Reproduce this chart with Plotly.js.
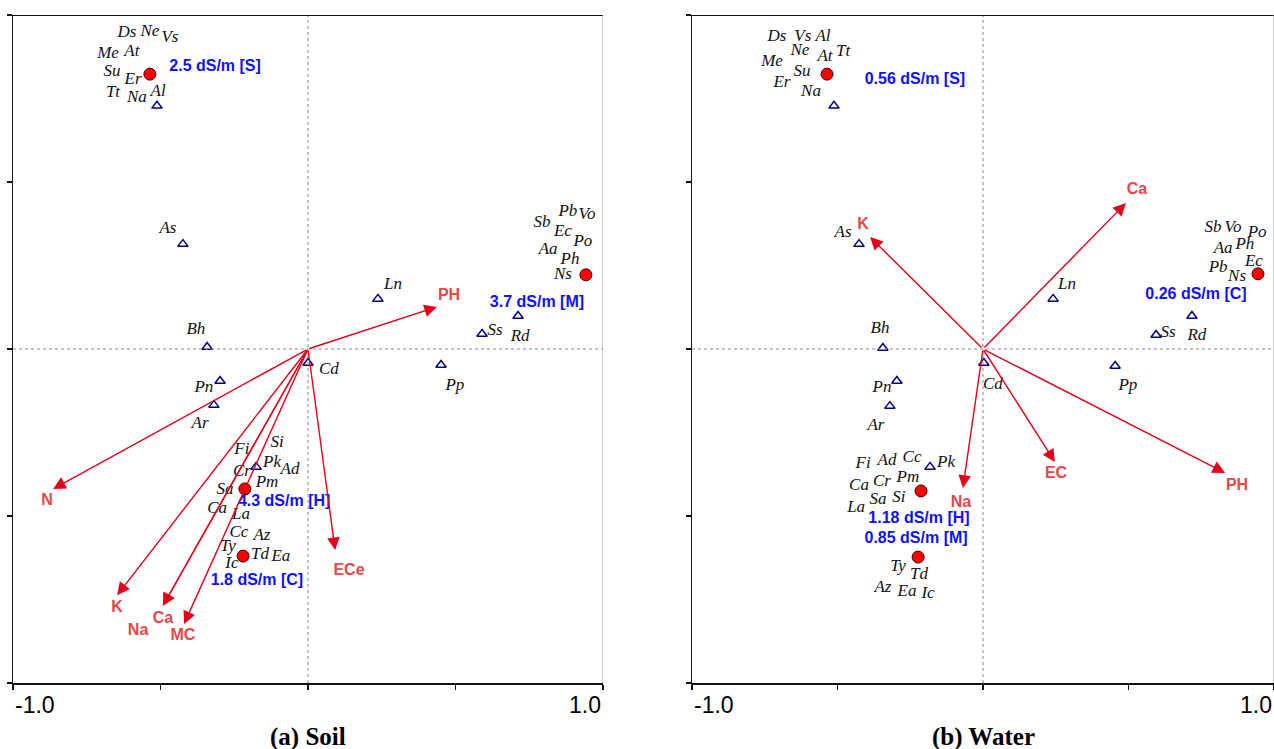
<!DOCTYPE html>
<html><head><meta charset="utf-8">
<script src="https://cdn.plot.ly/plotly-3.0.1.min.js"></script>
<style>html,body{margin:0;padding:0;background:#fff}#plot{width:1274px;height:749px}</style>
</head><body><div id="plot"></div>
<script>
// ---------- (a) Soil ----------
const soilTriNames = ['Al','As','Bh','Pn','Ar','Cd','Ln','Pp','Ss','Rd','Pk'];
const soilTriX = [-0.512,-0.424,-0.342,-0.298,-0.319,0.000,0.237,0.451,0.590,0.712,-0.176];
const soilTriY = [0.728,0.314,0.006,-0.096,-0.168,-0.042,0.150,-0.048,0.045,0.099,-0.353];

const soilSpNames = ['Ds','Ne','Vs','Me','At','Su','Er','Tt','Na','Al',
  'Pb','Vo','Sb','Ec','Po','Aa','Ph','Ns',
  'As','Ln','Bh','Cd','Pp','Pn','Ar','Ss','Rd',
  'Fi','Si','Cr','Pk','Ad','Sa','Pm','Ca','La','Cc','Az','Ty','Td','Ea','Ic'];
const soilSpX = [-0.614,-0.536,-0.468,-0.678,-0.597,-0.664,-0.593,-0.661,-0.580,-0.508,
  0.881,0.946,0.793,0.864,0.932,0.814,0.888,0.864,
  -0.475,0.288,-0.380,0.071,0.498,-0.353,-0.366,0.634,0.719,
  -0.224,-0.105,-0.224,-0.122,-0.061,-0.281,-0.139,-0.308,-0.227,-0.234,-0.156,-0.271,-0.163,-0.092,-0.258];
const soilSpY = [0.946,0.949,0.931,0.883,0.889,0.829,0.805,0.766,0.751,0.769,
  0.410,0.401,0.377,0.350,0.320,0.296,0.266,0.222,
  0.359,0.192,0.057,-0.063,-0.111,-0.117,-0.225,0.054,0.036,
  -0.302,-0.281,-0.368,-0.341,-0.362,-0.422,-0.401,-0.479,-0.497,-0.551,-0.560,-0.593,-0.617,-0.623,-0.644];

const soilGrpX = [-0.536,0.942,-0.214,-0.220];
const soilGrpY = [0.823,0.222,-0.419,-0.620];
const soilGrpText = ['2.5 dS/m [S]','3.7 dS/m [M]','4.3 dS/m [H]','1.8 dS/m [C]'];
const soilGrpTextX = [-0.315,0.776,-0.081,-0.173];
const soilGrpTextY = [0.844,0.138,-0.458,-0.695];

const soilVecNames = ['N','K','Na','Ca','MC','ECe','PH'];
const soilVecX = [-0.864,-0.647,-0.492,-0.492,-0.420,0.092,0.437];
const soilVecY = [-0.419,-0.737,-0.769,-0.769,-0.823,-0.602,0.126];
const soilVecLblX = [-0.885,-0.647,-0.576,-0.492,-0.424,0.139,0.478];
const soilVecLblY = [-0.455,-0.775,-0.844,-0.808,-0.859,-0.665,0.159];

// ---------- (b) Water ----------
const waterTriNames = ['Top','As','Bh','Pn','Ar','Cd','Ln','Pp','Ss','Rd','Pk'];
const waterTriX = [-0.512,-0.426,-0.344,-0.296,-0.320,0.003,0.241,0.454,0.595,0.718,-0.182];
const waterTriY = [0.728,0.314,0.003,-0.096,-0.171,-0.042,0.150,-0.051,0.042,0.099,-0.353];

const waterSpNames = ['Ds','Vs','Al','Ne','At','Tt','Me','Su','Er','Na',
  'Sb','Vo','Po','Aa','Ph','Ec','Pb','Ns',
  'As','Ln','Bh','Cd','Pp','Pn','Ar','Ss','Rd','Pk',
  'Fi','Ad','Cc','Ca','Cr','Pm','La','Sa','Si','Ty','Td','Az','Ea','Ic'];
const waterSpX = [-0.708,-0.619,-0.550,-0.629,-0.543,-0.481,-0.725,-0.622,-0.691,-0.591,
  0.790,0.859,0.942,0.825,0.900,0.931,0.808,0.873,
  -0.481,0.289,-0.354,0.034,0.498,-0.347,-0.368,0.636,0.735,-0.127,
  -0.412,-0.330,-0.244,-0.426,-0.347,-0.258,-0.436,-0.361,-0.289,-0.292,-0.220,-0.344,-0.261,-0.189];
const waterSpY = [0.934,0.934,0.934,0.892,0.874,0.889,0.859,0.829,0.796,0.769,
  0.362,0.362,0.347,0.299,0.311,0.260,0.243,0.216,
  0.347,0.192,0.060,-0.108,-0.111,-0.117,-0.231,0.048,0.039,-0.341,
  -0.344,-0.335,-0.326,-0.410,-0.398,-0.386,-0.476,-0.452,-0.446,-0.653,-0.677,-0.716,-0.728,-0.734];

const waterGrpX = [-0.536,0.945,-0.213,-0.223];
const waterGrpY = [0.823,0.225,-0.425,-0.623];
const waterGrpText = ['0.56 dS/m [S]','0.26 dS/m [C]','1.18 dS/m [H]','0.85 dS/m [M]'];
const waterGrpTextX = [-0.234,0.732,-0.220,-0.230];
const waterGrpTextY = [0.805,0.162,-0.509,-0.569];

const waterVecNames = ['K','Ca','Na','EC','PH'];
const waterVecX = [-0.388,0.491,-0.069,0.247,0.832];
const waterVecY = [0.335,0.437,-0.416,-0.338,-0.371];
const waterVecLblX = [-0.412,0.529,-0.076,0.251,0.873];
const waterVecLblY = [0.371,0.476,-0.461,-0.374,-0.410];

const axisTicks = [-1,-0.5,0,0.5,1];
const axisTickLabels = ['-1.0','1.0'];
const panelTitles = ['(a) Soil','(b) Water'];

// ---------- styles ----------
const arrowCol = '#e2001a';
const vecLblCol = '#e8474a';
const blue = '#1010ff';
const navy = '#00007f';

function panelTraces(xa, ya, triX, triY, spN, spX, spY, gX, gY, gT, gTX, gTY, vN, vLX, vLY){
  return [
    {type:'scatter', mode:'markers', x:triX, y:triY, xaxis:xa, yaxis:ya,
     marker:{symbol:'triangle-up-open', size:9, color:navy, line:{width:1.5, color:navy}}, hoverinfo:'skip'},
    {type:'scatter', mode:'text', x:spX, y:spY, text:spN, xaxis:xa, yaxis:ya,
     textposition:'middle center', textfont:{family:'Liberation Serif', size:17, style:'italic', color:'#111'}, hoverinfo:'skip'},
    {type:'scatter', mode:'markers', x:gX, y:gY, xaxis:xa, yaxis:ya,
     marker:{symbol:'circle', size:12, color:'#ff0000', line:{width:1, color:'#3a0000'}}, hoverinfo:'skip'},
    {type:'scatter', mode:'text', x:gTX, y:gTY, text:gT, xaxis:xa, yaxis:ya,
     textposition:'middle center', textfont:{family:'Liberation Sans', size:16, weight:'bold', color:blue}, hoverinfo:'skip'},
    {type:'scatter', mode:'text', x:vLX, y:vLY, text:vN, xaxis:xa, yaxis:ya,
     textposition:'middle center', textfont:{family:'Liberation Sans', size:16, weight:'bold', color:vecLblCol}, hoverinfo:'skip'}
  ];
}

const data = [
  ...panelTraces('x','y', soilTriX, soilTriY, soilSpNames, soilSpX, soilSpY, soilGrpX, soilGrpY, soilGrpText, soilGrpTextX, soilGrpTextY, soilVecNames, soilVecLblX, soilVecLblY),
  ...panelTraces('x2','y2', waterTriX, waterTriY, waterSpNames, waterSpX, waterSpY, waterGrpX, waterGrpY, waterGrpText, waterGrpTextX, waterGrpTextY, waterVecNames, waterVecLblX, waterVecLblY)
];

const W=1274, H=749;
const annotations = [];
function addArrows(xr, yr, vx, vy){
  for (let i=0;i<vx.length;i++){
    annotations.push({x:vx[i], y:vy[i], xref:xr, yref:yr, ax:0, ay:0, axref:xr, ayref:yr,
      text:'', showarrow:true, arrowhead:2, arrowsize:1.8, arrowwidth:1.4, arrowcolor:arrowCol, standoff:0, startstandoff:0});
  }
}
addArrows('x','y', soilVecX, soilVecY);
addArrows('x2','y2', waterVecX, waterVecY);

// tick labels and titles (paper y, axis x)
const xDomains = [[13/W, 603/W],[692/W, 1]];
xDomains.forEach((d,k)=>{
  annotations.push({x:d[0], y:(H-705)/H, xref:'paper', yref:'paper', text:axisTickLabels[0], showarrow:false, xanchor:'left', yanchor:'middle',
    font:{family:'Liberation Sans', size:23, color:'#000'}});
  annotations.push({x:d[1], y:(H-705)/H, xref:'paper', yref:'paper', text:axisTickLabels[1], showarrow:false, xanchor:'right', yanchor:'middle',
    font:{family:'Liberation Sans', size:23, color:'#000'}});
  annotations.push({x:(d[0]+d[1])/2, y:(H-737)/H, xref:'paper', yref:'paper', text:'<b>'+panelTitles[k]+'</b>', showarrow:false, xanchor:'center', yanchor:'middle',
    font:{family:'Liberation Serif', size:25, color:'#000'}});
});

const shapes = [];
[['x','y'],['x2','y2']].forEach(([xr,yr])=>{
  shapes.push({type:'line', xref:xr, yref:yr, x0:0, x1:0, y0:-1, y1:1, line:{color:'#8a8a8a', width:1, dash:'dot'}});
  shapes.push({type:'line', xref:xr, yref:yr, x0:-1, x1:1, y0:0, y1:0, line:{color:'#8a8a8a', width:1, dash:'dot'}});
  shapes.push({type:'line', xref:xr, yref:yr, x0:-1, x1:1, y0:1, y1:1, line:{color:'#111', width:2}});
  shapes.push({type:'line', xref:xr, yref:yr, x0:1, x1:1, y0:-1, y1:1, line:{color:'#9a9a9a', width:1}});
});

function xAx(domain){
  return {domain:domain, range:[-1,1], showgrid:false, zeroline:false, showline:true, linecolor:'#111', linewidth:1.5,
    ticks:'outside', tickvals:axisTicks, ticklen:5, tickwidth:1.2, tickcolor:'#111', showticklabels:false, fixedrange:true};
}
function yAx(domain, anchor){
  return {domain:domain, range:[-1,1], anchor:anchor, showgrid:false, zeroline:false, showline:true, linecolor:'#111', linewidth:1.5,
    ticks:'outside', tickvals:axisTicks, ticklen:5, tickwidth:1.2, tickcolor:'#111', showticklabels:false, fixedrange:true};
}
const yDom = [(H-683)/H, (H-15)/H];
const layout = {
  width:W, height:H, margin:{l:0,r:0,t:0,b:0}, paper_bgcolor:'#fff', plot_bgcolor:'#fff', showlegend:false,
  xaxis: Object.assign(xAx(xDomains[0]), {anchor:'y'}),
  yaxis: yAx(yDom, 'x'),
  xaxis2: Object.assign(xAx(xDomains[1]), {anchor:'y2'}),
  yaxis2: yAx(yDom, 'x2'),
  annotations: annotations, shapes: shapes
};
Plotly.newPlot('plot', data, layout, {displayModeBar:false, staticPlot:true});
</script></body></html>
